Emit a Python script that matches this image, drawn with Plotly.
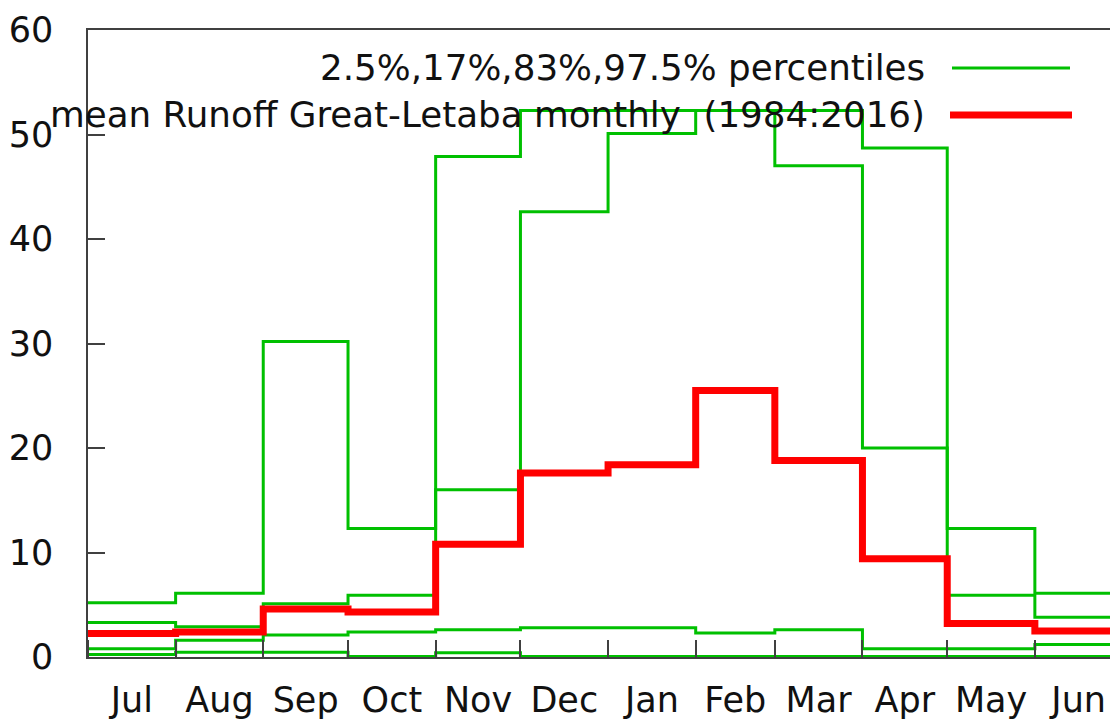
import pandas as pd
import plotly.graph_objects as go

months = ["Jul", "Aug", "Sep", "Oct", "Nov", "Dec", "Jan", "Feb", "Mar", "Apr", "May", "Jun"]
p025 = [0.25, 0.45, 0.45, 0.05, 0.4, 0.05, 0.05, 0.05, 0.05, 0.05, 0.05, 0.05]
p17 = [0.8, 1.6, 2.1, 2.4, 2.6, 2.8, 2.8, 2.3, 2.6, 0.8, 0.8, 1.2]
p83 = [3.3, 2.9, 5.1, 5.9, 16.0, 42.6, 50.1, 52.3, 47.0, 20.0, 5.9, 3.8]
p975 = [5.2, 6.1, 30.2, 12.3, 47.9, 52.3, 52.3, 52.3, 52.3, 48.7, 12.3, 6.1]
mean_runoff = [2.25, 2.4, 4.6, 4.3, 10.8, 17.6, 18.4, 25.5, 18.8, 9.4, 3.2, 2.5]

legend_pct = "2.5%,17%,83%,97.5% percentiles"
legend_mean = "mean Runoff Great-Letaba monthly \u00a0(1984:2016)"

# month start dates (Jul 2016 .. Jul 2017), step lines hold value to the next month start
starts = pd.date_range("2016-07-01", periods=13, freq="MS")
xs = list(starts)

GREEN = "#00c000"
RED = "#ff0000"
FONT = "DejaVu Sans"

fig = go.Figure()
for series in (p025, p17, p83, p975):
    fig.add_trace(go.Scatter(
        x=xs, y=series + [series[-1]], mode="lines", line_shape="hv",
        line=dict(color=GREEN, width=3), showlegend=False, hoverinfo="skip"))
fig.add_trace(go.Scatter(
    x=xs, y=mean_runoff + [mean_runoff[-1]], mode="lines", line_shape="hv",
    line=dict(color=RED, width=7), showlegend=False, hoverinfo="skip"))

axcol = "#404040"
fig.update_layout(
    xaxis=dict(
        type="date", range=["2016-07-01", "2017-06-27 14:00"],
        tick0="2016-07-01", dtick="M1", tickformat="%b", ticklabelmode="period",
        ticks="inside", ticklen=17, tickwidth=1.5, tickcolor=axcol,
        showline=True, linecolor=axcol, linewidth=1.5, mirror=True,
        showgrid=False, zeroline=False, ticklabelstandoff=11, automargin=False,
        tickfont=dict(family=FONT, size=35, color="#111")),
    yaxis=dict(
        range=[0, 60], tick0=0, dtick=10,
        ticks="inside", ticklen=17, tickwidth=1.5, tickcolor=axcol,
        showline=True, linecolor=axcol, linewidth=1.5, mirror=False,
        showgrid=False, zeroline=False, ticklabelstandoff=26, automargin=False,
        tickfont=dict(family=FONT, size=35, color="#111")),
    yaxis2=dict(
        overlaying="y", side="right", range=[0, 60], tick0=0, dtick=10,
        ticks="inside", ticklen=12, tickwidth=1.5, tickcolor=axcol,
        showline=False, showgrid=False, zeroline=False, showticklabels=False,
        automargin=False),
)

def px_x(px):
    return (px - 88) / 1022.0

def px_y(py):
    return (657 - py) / 627.0

fig.add_annotation(x=px_x(927), y=px_y(68), xref="paper", yref="paper",
                   text=legend_pct, showarrow=False, xanchor="right", yanchor="middle",
                   font=dict(family=FONT, size=35.7, color="#111"))
fig.add_annotation(x=px_x(927), y=px_y(115), xref="paper", yref="paper",
                   text=legend_mean, showarrow=False, xanchor="right", yanchor="middle",
                   font=dict(family=FONT, size=35.7, color="#111"))
fig.add_shape(type="line", xref="paper", yref="paper",
              x0=px_x(952), x1=px_x(1070), y0=px_y(68), y1=px_y(68),
              line=dict(color=GREEN, width=3))
fig.add_shape(type="line", xref="paper", yref="paper",
              x0=px_x(950), x1=px_x(1072), y0=px_y(115), y1=px_y(115),
              line=dict(color=RED, width=7))

fig.update_layout(
    width=1110, height=721,
    margin=dict(l=88, r=0, t=30, b=64),
    plot_bgcolor="white", paper_bgcolor="white",
    font=dict(family=FONT, size=35, color="#111"),
    showlegend=False)

fig.write_html("out.html", config={"displayModeBar": False},
               post_script="document.body.style.margin='0';document.body.style.overflow='hidden';")
